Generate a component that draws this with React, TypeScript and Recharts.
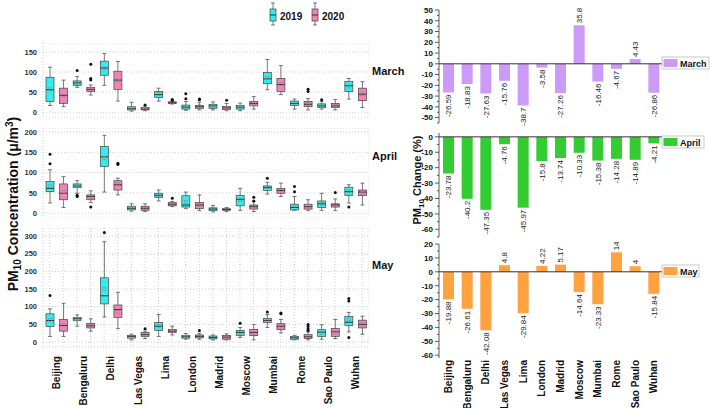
import React from 'react';
import { ComposedChart, BarChart, Bar, XAxis, YAxis, CartesianGrid, ReferenceLine } from 'recharts';

const FONT = 'Arial, "Liberation Sans", sans-serif';

const cities = ['Beijing', 'Bengaluru', 'Delhi', 'Las Vegas', 'Lima', 'London', 'Madrid', 'Moscow', 'Mumbai', 'Rome', 'Sao Paulo', 'Wuhan'];

// box stats: [min, q1, median, q3, max]
const march2019 = [[17, 27, 56, 87, 112], [62, 67, 73, 78, 89], [67, 92, 110, 127, 146], [3, 6, 9, 14, 25], [28, 37, 44, 52, 60], [5, 8, 13, 18, 27], [6, 10, 16, 20, 26], [4, 8, 13, 17, 23], [56, 71, 83, 99, 131], [8, 17, 22, 28, 33], [8, 12, 16, 21, 27], [33, 52, 66, 77, 84]];
const march2019Mean = [57, 73, 109, 10, 45, 14, 15, 13, 85, 22, 16, 64];
const march2019Out = [[], [104], [], [], [], [34, 46], [], [], [], [], [31], []];
const march2020 = [[14, 22, 42, 60, 80], [43, 52, 57, 62, 68], [28, 57, 80, 102, 126], [4, 6, 8, 12, 16], [21, 22, 24, 26, 27], [6, 10, 14, 17, 25], [4, 7, 11, 15, 22], [8, 16, 22, 27, 39], [44, 52, 69, 84, 116], [6, 14, 20, 27, 34], [6, 12, 16, 22, 32], [12, 29, 45, 60, 76]];
const march2020Mean = [42, 58, 79, 9, 24, 15, 11, 22, 70, 21, 16, 45];
const march2020Out = [[], [80, 84, 119], [], [18], [30, 32], [31, 33], [30], [], [], [52, 57], [], []];

const april2019 = [[25, 53, 61, 78, 107], [49, 63, 67, 72, 80], [52, 115, 139, 164, 192], [5, 8, 12, 17, 23], [30, 39, 44, 49, 57], [11, 15, 20, 43, 52], [3, 6, 10, 13, 19], [7, 18, 34, 44, 61], [47, 56, 63, 67, 76], [7, 8, 14, 22, 41], [7, 14, 23, 30, 49], [25, 44, 53, 64, 70]];
const april2019Mean = [66, 67, 136, 12, 44, 27, 10, 32, 64, 19, 23, 54];
const april2019Out = [[122, 145], [41, 44], [], [], [], [], [], [], [86], [53, 66], [], [15]];
const april2020 = [[14, 33, 49, 72, 90], [26, 33, 41, 45, 55], [45, 57, 70, 80, 86], [4, 7, 12, 17, 23], [16, 18, 22, 26, 29], [6, 11, 20, 26, 45], [4, 7, 9, 11, 14], [4, 10, 16, 20, 29], [41, 49, 56, 61, 74], [6, 10, 16, 22, 33], [6, 15, 20, 23, 35], [20, 43, 52, 57, 74]];
const april2020Mean = [52, 40, 72, 12, 23, 20, 9, 17, 56, 17, 20, 50];
const april2020Out = [[], [15], [120, 123], [], [37], [], [], [30, 39], [], [], [51], []];

const may2019 = [[16, 44, 61, 80, 94], [45, 61, 66, 70, 77], [71, 108, 131, 182, 284], [6, 11, 16, 19, 22], [16, 33, 45, 55, 78], [8, 11, 15, 19, 24], [6, 9, 13, 17, 20], [13, 19, 27, 33, 41], [41, 55, 61, 67, 78], [6, 8, 12, 16, 19], [8, 16, 28, 35, 49], [29, 47, 56, 73, 84]];
const may2019Mean = [62, 65, 150, 15, 45, 15, 13, 27, 61, 12, 26, 64];
const may2019Out = [[132], [], [310], [], [], [], [], [53], [85], [], [], [13, 116, 123]];
const may2020 = [[16, 31, 47, 64, 110], [31, 40, 46, 53, 66], [38, 70, 92, 105, 141], [10, 16, 21, 27, 31], [20, 27, 31, 36, 45], [8, 12, 16, 20, 25], [6, 8, 14, 19, 23], [6, 18, 27, 36, 50], [26, 35, 45, 52, 64], [6, 10, 15, 21, 29], [10, 16, 29, 38, 64], [22, 40, 50, 62, 73]];
const may2020Mean = [49, 46, 86, 21, 31, 16, 13, 26, 44, 17, 27, 51];
const may2020Out = [[], [], [], [38], [], [33], [], [], [80, 82], [33, 38, 44, 50], [], []];

// PM10 change (%)
const marchChange = [-26.59, -18.83, -27.63, -15.76, -38.7, -3.58, -27.26, 35.8, -16.46, -4.67, 4.43, -26.86];
const aprilChange = [-23.78, -40.2, -47.35, -4.76, -45.97, -15.8, -13.74, -10.33, -15.38, -14.28, -14.89, -4.21];
const mayChange = [-19.88, -26.61, -42.08, 4.8, -29.84, 4.22, 5.17, -14.64, -23.33, 14, 4, -15.84];

const COLOR_2019 = '#33EDED';
const COLOR_2020 = '#F084B8';

function buildRows(s19: number[][], m19: number[], o19: number[][], s20: number[][], m20: number[], o20: number[][]) {
  const rows: any[] = [];
  cities.forEach((c, i) => {
    rows.push({ key: c + ' 2019', year: '2019', stats: s19[i], mean: m19[i], out: o19[i] });
    rows.push({ key: c + ' 2020', year: '2020', stats: s20[i], mean: m20[i], out: o20[i] });
  });
  return rows;
}

function steps(lo: number, hi: number, step: number) {
  const out: number[] = [];
  for (let v = lo; v <= hi; v += step) out.push(v);
  return out;
}

const BoxShape = (props: any) => {
  const { x, y, width, height, payload } = props;
  const [mn, q1, md, q3, mx] = payload.stats;
  const top = Math.min(y, y + height);
  const bot = Math.max(y, y + height);
  const py = (v: number) => bot - ((bot - top) * (v - mn)) / (mx - mn);
  const cx = x + width / 2;
  const fill = payload.year === '2019' ? COLOR_2019 : COLOR_2020;
  return (
    <g>
      <line x1={cx} x2={cx} y1={py(mx)} y2={py(mn)} stroke="#555" strokeWidth={0.8} />
      <line x1={cx - 2} x2={cx + 2} y1={py(mx)} y2={py(mx)} stroke="#555" strokeWidth={0.8} />
      <line x1={cx - 2} x2={cx + 2} y1={py(mn)} y2={py(mn)} stroke="#555" strokeWidth={0.8} />
      <rect x={cx - width / 2} y={py(q3)} width={width} height={Math.max(1, py(q1) - py(q3))} fill={fill} stroke="#444" strokeWidth={0.7} />
      <line x1={cx - width / 2} x2={cx + width / 2} y1={py(md)} y2={py(md)} stroke="#333" strokeWidth={1} />
      <rect x={cx - 1.5} y={py(payload.mean) - 1.5} width={3} height={3} fill="none" stroke="#8a8a8a" strokeWidth={0.6} />
      {payload.out.map((o: number, k: number) => (
        <circle key={k} cx={cx} cy={py(o)} r={1.5} fill="#111" />
      ))}
    </g>
  );
};

// bar plus its rotated value label
const ChangeBar = (props: any) => {
  const x = Number(props.x), y = Number(props.y), w = Number(props.width), h = Number(props.height);
  const value = props.payload.value;
  const top = Math.min(y, y + h);
  const bot = Math.max(y, y + h);
  const cx = x + w / 2;
  const neg = value < 0;
  const py = neg ? bot + 2 : top - 2;
  return (
    <g>
      <rect x={x} y={top} width={w} height={bot - top} fill={props.fill} />
      <text x={cx} y={py} transform={`rotate(-90 ${cx} ${py})`} textAnchor={neg ? 'end' : 'start'} dy="0.35em" fontSize={8} fill="#222" fontFamily={FONT}>
        {value}
      </text>
    </g>
  );
};

const CityTick = (props: any) => {
  const { x, y, payload } = props;
  const i = props.index ?? payload.index;
  if (i % 2 !== 0) return <g />;
  const cx = x + 6.8;
  return (
    <text x={cx} y={y} transform={`rotate(-90 ${cx} ${y})`} textAnchor="end" dy="0.35em" fontSize={10} fontWeight={700} fill="#111" fontFamily={FONT}>
      {cities[i / 2]}
    </text>
  );
};

const RotTick = (props: any) => {
  const { x, y, payload } = props;
  return (
    <text x={x} y={y} transform={`rotate(-90 ${x} ${y})`} textAnchor="end" dy="0.35em" fontSize={10} fontWeight={700} fill="#111" fontFamily={FONT}>
      {payload.value}
    </text>
  );
};

const ValTick = (props: any) => {
  const { x, y, payload } = props;
  const major = payload.value % 10 === 0;
  return (
    <g>
      <line x1={x} x2={x - (major ? 4 : 2)} y1={y} y2={y} stroke="#333" strokeWidth={0.8} />
      {major && (
        <text x={x - 6} y={y} dy="0.35em" textAnchor="end" fontSize={8} fontWeight={700} fill="#111" fontFamily={FONT}>
          {payload.value}
        </text>
      )}
    </g>
  );
};

interface BoxPanelProps {
  rows: any[];
  top: number;
  plotH: number;
  domain: [number, number];
  ticks: number[];
  showX?: boolean;
}

const BoxPanel = ({ rows, top, plotH, domain, ticks, showX = false }: BoxPanelProps) => (
  <div style={{ position: 'absolute', left: 0, top }}>
    <ComposedChart width={369} height={plotH + (showX ? 60 : 0)} data={rows} margin={{ top: 0, right: 0, bottom: 0, left: 0 }}>
      <CartesianGrid stroke="#cfcfcf" strokeDasharray="1 2" />
      <XAxis
        dataKey="key"
        interval={0}
        axisLine={false}
        tickLine={false}
        tickSize={0}
        tickMargin={9}
        height={showX ? 60 : 0}
        tick={showX ? (p: any) => <CityTick {...p} /> : false}
      />
      <YAxis
        type="number"
        domain={domain}
        ticks={ticks}
        interval={0}
        allowDataOverflow
        width={43}
        axisLine={false}
        tickLine={false}
        tickSize={0}
        tickMargin={6}
        tick={{ fill: '#333', fontSize: 7.5, fontWeight: 700, fontFamily: FONT }}
      />
      <Bar dataKey={(d: any) => [d.stats[0], d.stats[4]]} barSize={8} shape={(p: any) => <BoxShape {...p} />} isAnimationActive={false} />
    </ComposedChart>
  </div>
);

interface ChangePanelProps {
  values: number[];
  color: string;
  plotTop: number;
  padTop: number;
  plotH: number;
  domain: [number, number];
  showX?: boolean;
}

const ChangePanel = ({ values, color, plotTop, padTop, plotH, domain, showX = false }: ChangePanelProps) => {
  const rows = cities.map((c, i) => ({ city: c, value: values[i] }));
  const ticks = steps(Math.ceil(domain[0] / 5) * 5, domain[1], 5);
  const padBottom = showX ? 0 : 12;
  const xH = showX ? 60 : 0;
  return (
    <div style={{ position: 'absolute', left: 400, top: plotTop - padTop }}>
      <BarChart width={263} height={padTop + plotH + padBottom + xH} data={rows} margin={{ top: padTop, right: 0, bottom: padBottom, left: 0 }}>
        <XAxis
          dataKey="city"
          interval={0}
          axisLine={false}
          tickLine={false}
          tickSize={0}
          tickMargin={2}
          height={xH}
          tick={showX ? (p: any) => <RotTick {...p} /> : false}
        />
        <YAxis
          type="number"
          domain={domain}
          ticks={ticks}
          interval={0}
          width={39}
          axisLine={{ stroke: '#333', strokeWidth: 0.8 }}
          tickLine={false}
          tickSize={0}
          tickMargin={0}
          tick={(p: any) => <ValTick {...p} />}
        />
        <ReferenceLine y={0} stroke="#333" strokeWidth={1} />
        <Bar dataKey="value" fill={color} barSize={11} isAnimationActive={false} shape={(p: any) => <ChangeBar {...p} />} />
      </BarChart>
    </div>
  );
};

const LegendGlyph = ({ x, fill }: { x: number; fill: string }) => (
  <g>
    <line x1={x + 3} x2={x + 3} y1={3} y2={25} stroke="#555" strokeWidth={0.8} />
    <line x1={x + 1} x2={x + 5} y1={3} y2={3} stroke="#555" strokeWidth={0.8} />
    <line x1={x + 1} x2={x + 5} y1={25} y2={25} stroke="#555" strokeWidth={0.8} />
    <rect x={x} y={9} width={6} height={12} fill={fill} stroke="#444" strokeWidth={0.7} />
    <line x1={x} x2={x + 6} y1={15} y2={15} stroke="#333" strokeWidth={1} />
  </g>
);

const BarLegend = ({ y, w, color, label }: { y: number; w: number; color: string; label: string }) => (
  <g>
    <rect x={662} y={y} width={w} height={12} fill="#fff" stroke="#bbb" strokeWidth={0.8} />
    <rect x={663.5} y={y + 2} width={14} height={8} fill={color} />
    <text x={680} y={y + 9.5} fontSize={9} fontWeight={700} fill="#111" fontFamily={FONT}>
      {label}
    </text>
  </g>
);

export default function App() {
  const marchRows = buildRows(march2019, march2019Mean, march2019Out, march2020, march2020Mean, march2020Out);
  const aprilRows = buildRows(april2019, april2019Mean, april2019Out, april2020, april2020Mean, april2020Out);
  const mayRows = buildRows(may2019, may2019Mean, may2019Out, may2020, may2020Mean, may2020Out);

  return (
    <div style={{ position: 'absolute', left: 0, top: 0, width: 710, height: 408, background: '#fff', fontFamily: FONT, overflow: 'hidden' }}>
      <BoxPanel rows={marchRows} top={43} plotH={75} domain={[-14, 172]} ticks={[0, 50, 100, 150]} />
      <BoxPanel rows={aprilRows} top={128} plotH={90} domain={[-12, 210]} ticks={[0, 50, 100, 150, 200]} />
      <BoxPanel rows={mayRows} top={228} plotH={119} domain={[-14, 323]} ticks={[0, 50, 100, 150, 200, 250, 300]} showX />

      <ChangePanel values={marchChange} color="#CC9BF7" plotTop={10} padTop={10} plotH={113} domain={[-55, 50]} />
      <ChangePanel values={aprilChange} color="#33CC33" plotTop={133} padTop={4} plotH={104} domain={[-65, 2.5]} />
      <ChangePanel values={mayChange} color="#FFA23F" plotTop={244} padTop={14} plotH={114} domain={[-62, 20]} showX />

      <svg width={710} height={408} style={{ position: 'absolute', left: 0, top: 0, pointerEvents: 'none' }}>
        <LegendGlyph x={270} fill={COLOR_2019} />
        <text x={280} y={19.5} fontSize={10} fontWeight={700} fill="#111" fontFamily={FONT}>2019</text>
        <LegendGlyph x={312} fill={COLOR_2020} />
        <text x={322} y={19.5} fontSize={10} fontWeight={700} fill="#111" fontFamily={FONT}>2020</text>

        <text x={372} y={75} fontSize={11} fontWeight={700} fill="#111" fontFamily={FONT}>March</text>
        <text x={372} y={160} fontSize={11} fontWeight={700} fill="#111" fontFamily={FONT}>April</text>
        <text x={372} y={269} fontSize={11} fontWeight={700} fill="#111" fontFamily={FONT}>May</text>

        <text x={18} y={204} transform="rotate(-90 18 204)" textAnchor="middle" fontSize={14} fontWeight={700} fill="#111" fontFamily={FONT}>
          PM<tspan dy={3} fontSize={10}>10</tspan>
          <tspan dy={-3}> Concentration (μ/m</tspan>
          <tspan dy={-5} fontSize={10}>3</tspan>
          <tspan dy={5}>)</tspan>
        </text>

        <text x={421} y={180} transform="rotate(-90 421 180)" textAnchor="middle" fontSize={11} fontWeight={700} fill="#111" fontFamily={FONT}>
          PM<tspan dy={2.5} fontSize={8}>10</tspan>
          <tspan dy={-2.5}> Change (%)</tspan>
        </text>

        <BarLegend y={57} w={47} color="#CC9BF7" label="March" />
        <BarLegend y={136} w={42} color="#33CC33" label="April" />
        <BarLegend y={265} w={37} color="#FFA23F" label="May" />
      </svg>
    </div>
  );
}
